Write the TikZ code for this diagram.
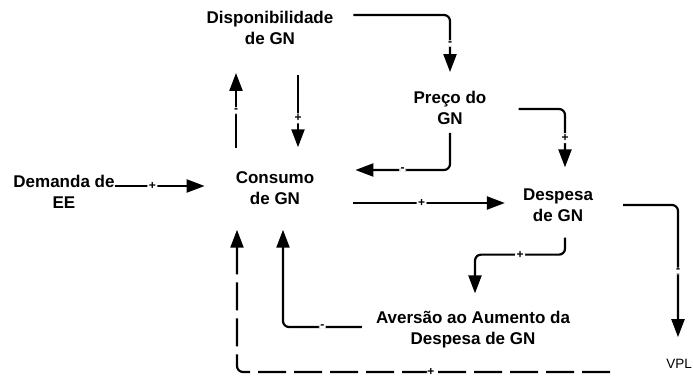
\documentclass[tikz,border=0pt]{standalone}
\usepackage{fontspec}
\setmainfont{Liberation Sans}
\usetikzlibrary{arrows.meta}

\begin{document}
\begin{tikzpicture}[x=1pt,y=1pt,
				var/.style={font=\bfseries\fontsize{17}{21}\selectfont,align=center,inner sep=0pt},
				arr/.style={line width=2.2pt,rounded corners=6pt,-{Triangle[length=18pt,width=13pt]}},
				sgn/.style={font=\bfseries\fontsize{12}{12}\selectfont,fill=white,inner sep=1.5pt}]
				\useasboundingbox (0,0) rectangle (693,378);
				\node[var] (disp)     at (270,350) {Disponibilidade\\de GN};
				\node[var] (preco)    at (450,270) {Preço do\\GN};
				\node[var] (demanda)  at (64,186)  {Demanda de\\EE};
				\node[var] (consumo)  at (275,190) {Consumo\\de GN};
				\node[var] (despesa)  at (558,173) {Despesa\\de GN};
				\node[var] (aversao)  at (473,48)  {Aversão ao Aumento da\\Despesa de GN};
				\node[font=\fontsize{13.5}{16}\selectfont,inner sep=0pt] (vpl) at (679,14) {VPL};
				
				\draw[arr] ([xshift=20pt,yshift=13pt]disp.east) -| node[sgn,pos=0.75] {-} ([yshift=19pt]preco.north);
				\draw[arr] ([xshift=-39pt,yshift=23pt]consumo.north) -- node[sgn] {-} ([xshift=-34pt,yshift=-28pt]disp.south);
				\draw[arr] ([xshift=28pt,yshift=-30pt]disp.south) -- node[sgn,pos=0.6] {+} ([xshift=23pt,yshift=24pt]consumo.north);
				\draw[arr] ([yshift=6pt]demanda.east) -- node[sgn,pos=0.42] {+} ([xshift=-31pt,yshift=2pt]consumo.west);
				\draw[arr] ([yshift=-8pt]preco.south) |- node[sgn,pos=0.75] {-} ([xshift=41pt,yshift=18pt]consumo.east);
				\draw[arr] ([xshift=32pt,yshift=-1pt]preco.east) -| node[sgn,pos=0.75] {+} ([xshift=7pt,yshift=21pt]despesa.north);
				\draw[arr] ([xshift=39pt,yshift=-15pt]consumo.east) -- node[sgn,pos=0.45] {+} ([xshift=-18pt,yshift=2pt]despesa.west);
				\draw[arr] ([xshift=30pt]despesa.east) -| node[sgn,pos=0.75] {-} ([xshift=-1pt,yshift=22pt]vpl.north);
				\draw[arr] ([xshift=7pt,yshift=-16pt]despesa.south) -- ++(0,-17) -| node[sgn,pos=0.25] {+} ([xshift=2pt,yshift=18pt]aversao.north);
				\draw[arr] ([xshift=-14pt,yshift=3pt]aversao.west) -| node[sgn,pos=0.25] {-} ([xshift=8pt,yshift=-25pt]consumo.south);
				\draw[arr,dash pattern=on 28pt off 8pt] ([xshift=-56pt,yshift=-8pt]vpl.west) -| node[sgn,pos=0.24,inner sep=0.5pt] {+} ([xshift=-38pt,yshift=-25pt]consumo.south);
			\end{tikzpicture}
\end{document}
